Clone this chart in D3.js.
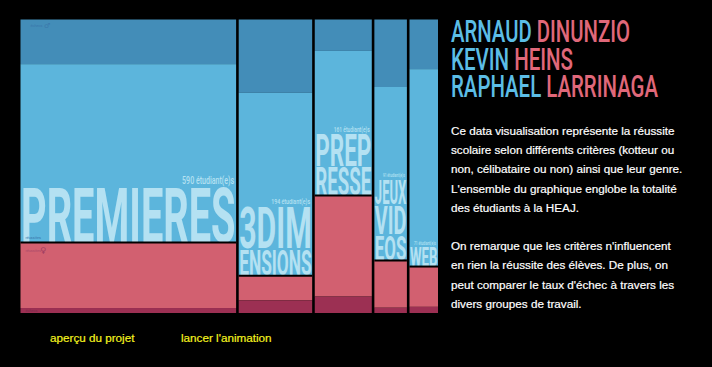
<!DOCTYPE html>
<html>
<head>
<meta charset="utf-8">
<script src="https://cdn.jsdelivr.net/npm/d3@7"></script>
<style>
  html, body { margin: 0; padding: 0; background: #000; overflow: hidden; }
  svg { display: block; }
</style>
</head>
<body>
<svg id="chart" width="712" height="367"></svg>
<script>
// column data
const groups = ["PREMIERES", "3DIMENSIONS", "PREPRESSE", "JEUXVIDEOS", "WEB"];
const students = [590, 194, 161, 91, 71];
// column weight (the picture's bars aren't exactly prop. to the printed counts)
const columnWeights = [590, 201, 156, 89, 78];
const series = ["echecsH", "reussitesH", "reussitesF", "echecsF"];
const echecsH = [15.2, 25, 10.7, 23, 16.9];
const reussitesH = [60.6, 62.1, 49.1, 58.9, 67.1];
const reussitesF = [22.5, 8.6, 34.6, 16.3, 13.9];
const echecsF = [1.7, 4.3, 5.6, 1.8, 2.1];

const groupLines = [["PREMIERES"], ["3DIM", "ENSIONS"], ["PREP", "RESSE"], ["JEUX", "VID", "EOS"], ["WEB"]];
const nameFirst = ["ARNAUD", "KEVIN", "RAPHAEL"];
const nameLast = ["DINUNZIO", "HEINS", "LARRINAGA"];
const paragraph = [
  "Ce data visualisation représente la réussite",
  "scolaire selon différents critères (kotteur ou",
  "non, célibataire ou non) ainsi que leur genre.",
  "L'ensemble du graphique englobe la totalité",
  "des étudiants à la HEAJ.",
  "",
  "On remarque que les critères n'influencent",
  "en rien la réussite des élèves. De plus, on",
  "peut comparer le taux d'échec à travers les",
  "divers groupes de travail."
];
const linkLabels = ["aperçu du projet", "lancer l'animation"];
const tinyLabels = ["échecs", "réussites", "réussites", "échecs"];

const colors = { echecsH: "#438db8", reussitesH: "#5cb5dc", reussitesF: "#d26070", echecsF: "#9c3053" };
const textLight = "#b4e1f2";
const narrow = "Roboto, sans-serif";
const plain = "'Liberation Sans', Arial, sans-serif";

const svg = d3.select("#chart");

// x: columns side by side with a 2.6px black gutter, y: percent of the column
const gap = 2.6;
const plotLeft = 20.5, plotRight = 438, plotTop = 19.5, plotBottom = 313;
const totalWeight = d3.sum(columnWeights);
const unit = d3.scaleLinear()
  .domain([0, totalWeight])
  .range([0, plotRight - plotLeft - gap * (groups.length - 1)]);
const y = d3.scaleLinear().domain([0, 100]).range([plotTop, plotBottom]);

let cursor = plotLeft;
const columns = groups.map((g, i) => {
  const w = unit(columnWeights[i]);
  const c = { name: g, i, x: cursor, w };
  cursor += w + gap;
  return c;
});

const stack = d3.stack().keys(series)(columns.map((c) => ({
  echecsH: echecsH[c.i], reussitesH: reussitesH[c.i], reussitesF: reussitesF[c.i], echecsF: echecsF[c.i],
})));

const colG = svg.selectAll("g.col").data(columns).join("g").attr("class", "col");

stack.forEach((layer) => {
  colG.append("rect")
    .attr("x", (d) => d.x)
    .attr("width", (d) => d.w)
    .attr("y", (d) => y(layer[d.i][0]))
    .attr("height", (d) => y(layer[d.i][1]) - y(layer[d.i][0]))
    .attr("fill", colors[layer.key]);
});

// clip the big words to their column
colG.append("clipPath")
  .attr("id", (d) => "clip" + d.i)
  .append("rect")
  .attr("x", (d) => d.x)
  .attr("width", (d) => d.w)
  .attr("y", plotTop)
  .attr("height", plotBottom - plotTop);

// big title lines, stacked upward from the blue/red boundary. sizes tuned by eye
const lineCapHeights = [[54], [41, 25], [31, 27], [23, 28, 24], [18]];
const capRatio = 0.711;

columns.forEach((c) => {
  const g = colG.filter((d) => d.i === c.i).append("g").attr("clip-path", `url(#clip${c.i})`);
  const base = y(echecsH[c.i] + reussitesH[c.i]);
  let yy = base;
  const lines = groupLines[c.i];
  for (let k = lines.length - 1; k >= 0; k--) {
    const h = lineCapHeights[c.i][k];
    g.append("text")
      .attr("x", c.x + 0.5)
      .attr("y", yy)
      .attr("font-family", narrow)
      .attr("font-weight", 700)
      .attr("font-size", h / capRatio)
      .attr("fill", textLight)
      .attr("textLength", c.w - 1)
      .attr("lengthAdjust", "spacingAndGlyphs")
      .text(lines[k]);
    yy -= h + 2;
  }
  // count label just above the word
  g.append("text")
    .attr("x", c.x + c.w - 2)
    .attr("y", yy - 1.5)
    .attr("text-anchor", "end")
    .attr("font-family", narrow)
    .attr("font-weight", 500)
    .attr("font-size", [11, 8, 7, 5, 5][c.i])
    .attr("fill", textLight)
    .attr("textLength", [52, 39, 36, 22, 22][c.i])
    .attr("lengthAdjust", "spacingAndGlyphs")
    .text(`${students[c.i]} étudiant(e)s`);

  // black line between blue and red
  svg.append("line")
    .attr("x1", c.x).attr("x2", c.x + c.w)
    .attr("y1", base + 0.5).attr("y2", base + 0.5)
    .attr("stroke", "#000").attr("stroke-width", 2);
});

// tiny legend in the first column only
["#3a77ab", "#3a77ab", "#a84a6a", "#7d2a4a"].forEach((col, i) => {
  svg.append("text")
    .attr("x", [30.5, 25.5, 25.5, 25.5][i])
    .attr("y", [27, 239, 252, 312][i])
    .attr("font-family", narrow)
    .attr("font-size", 3.8)
    .attr("fill", col)
    .text(tinyLabels[i]);
});
// genre icons
svg.append("text").attr("x", 44).attr("y", 28).attr("font-family", "DejaVu Sans")
  .attr("font-size", 7).attr("fill", "#3a77ab").text("♂");
svg.append("text").attr("x", 40).attr("y", 253).attr("font-family", "DejaVu Sans")
  .attr("font-size", 8).attr("fill", "#a03c60").text("♀");

// authors
nameFirst.forEach((n, i) => {
  const t = svg.append("text")
    .attr("x", 451)
    .attr("y", 42 + i * 27.5)
    .attr("font-family", narrow)
    .attr("font-weight", 500)
    .attr("font-size", 31);
  t.append("tspan").attr("fill", "#5cbde6").text(n + " ");
  t.append("tspan").attr("fill", "#e0687a").text(nameLast[i]);
  t.attr("textLength", [179, 122, 207][i]).attr("lengthAdjust", "spacingAndGlyphs");
});

// description
svg.selectAll("text.p").data(paragraph).join("text")
  .attr("class", "p")
  .attr("x", 451)
  .attr("y", (d, i) => 135 + i * 19.2)
  .attr("font-family", plain)
  .attr("font-size", 11.7)
  .attr("fill", "#fff")
  .attr("stroke", "#fff")
  .attr("stroke-width", 0.2)
  .text((d) => d);

// links under the chart
svg.selectAll("text.link").data(linkLabels).join("text")
  .attr("class", "link")
  .attr("x", (d, i) => [50, 181][i])
  .attr("y", 342)
  .attr("font-family", plain)
  .attr("font-size", 11.7)
  .attr("fill", "#f4f31f")
  .attr("stroke", "#f4f31f")
  .attr("stroke-width", 0.2)
  .text((d) => d);
</script>
</body>
</html>
